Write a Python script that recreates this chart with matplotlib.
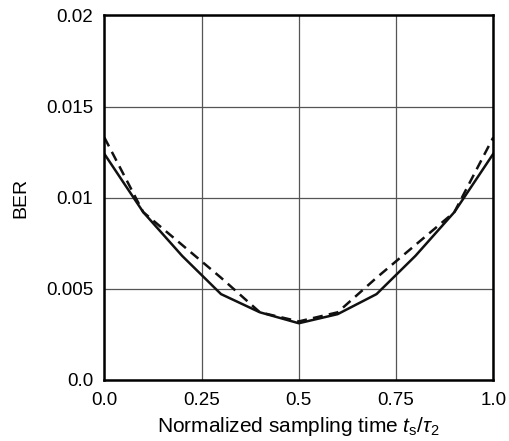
import matplotlib
matplotlib.use('Agg')
import matplotlib.pyplot as plt

plt.rcParams['font.family'] = ['Liberation Sans', 'DejaVu Sans']
plt.rcParams['mathtext.fontset'] = 'custom'
plt.rcParams['mathtext.it'] = 'Liberation Sans:italic'
plt.rcParams['mathtext.rm'] = 'Liberation Sans'

t = [0.0, 0.1, 0.2, 0.3, 0.4, 0.5, 0.6, 0.7, 0.8, 0.9, 1.0]
ber_solid = [0.0124, 0.0092, 0.0068, 0.0047, 0.0037, 0.0031, 0.0036, 0.0047, 0.0068, 0.0092, 0.0124]
ber_dashed = [0.0133, 0.0092, 0.0074, 0.0056, 0.0037, 0.0032, 0.0037, 0.0056, 0.0074, 0.0092, 0.0133]

xticks = [0.0, 0.25, 0.5, 0.75, 1.0]
xticklabels = ['0.0', '0.25', '0.5', '0.75', '1.0']
yticks = [0.0, 0.005, 0.01, 0.015, 0.02]
yticklabels = ['0.0', '0.005', '0.01', '0.015', '0.02']

fig = plt.figure(figsize=(5.09, 4.41), dpi=100)
ax = fig.add_axes([0.205, 0.139, 0.764, 0.826])

ax.plot(t, ber_solid, color='#111111', lw=1.8, ls='-')
ax.plot(t, ber_dashed, color='#111111', lw=1.8, ls=(0, (4, 2.5)))

ax.set_xlim(0, 1)
ax.set_ylim(0, 0.02)
ax.set_xticks(xticks)
ax.set_xticklabels(xticklabels)
ax.set_yticks(yticks)
ax.set_yticklabels(yticklabels)
ax.tick_params(length=0, labelsize=13.5)
ax.tick_params(axis='x', pad=9)
ax.tick_params(axis='y', pad=8)
ax.grid(True, color='#555555', lw=0.9)
for s in ax.spines.values():
    s.set_linewidth(1.8)

ax.set_xlabel(r'Normalized sampling time $t_\mathrm{s}/\tau_2$', fontsize=15, labelpad=4)
ax.set_ylabel('BER', fontsize=14, labelpad=12)

plt.savefig('out.png', dpi=100)
